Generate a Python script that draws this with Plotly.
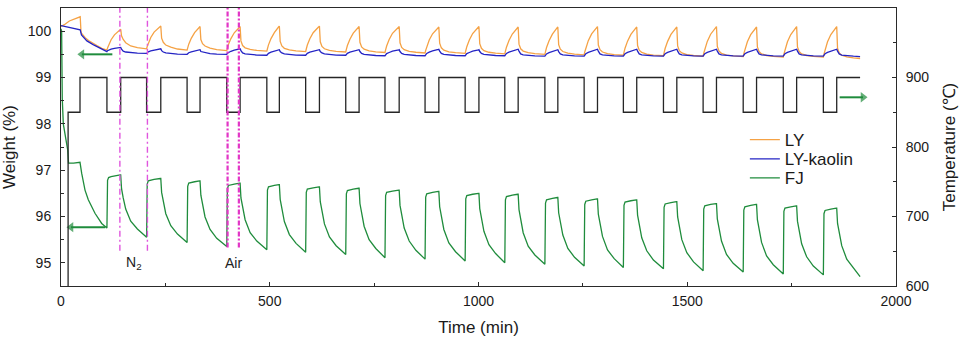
import plotly.graph_objects as go

# ---------------- data ----------------
# temperature programme (step changes), degC
temp_time = [0, 17, 45.5, 110, 143, 205, 239, 302, 333, 397, 429, 493, 523, 586, 619,
             682, 714, 776, 810, 872, 905, 968, 1001, 1063, 1095, 1159, 1190, 1253, 1285,
             1347, 1379, 1443, 1475, 1538, 1570, 1634, 1666, 1730, 1762, 1826, 1858, 1914]
temp_value = [25, 850, 900, 850, 900, 850, 900, 850, 900, 850, 900, 850, 900, 850, 900,
              850, 900, 850, 900, 850, 900, 850, 900, 850, 900, 850, 900, 850, 900,
              850, 900, 850, 900, 850, 900, 850, 900, 850, 900, 850, 900, 900]

# initial heating segments (min, wt %)
ly_init_t = [0, 8, 20, 35, 44, 46, 48, 52, 58, 66, 76, 86, 98]
ly_init_w = [100.10, 100.14, 100.22, 100.28, 100.31, 100.31, 99.97, 99.92, 99.86, 99.80, 99.74, 99.69, 99.63]
kaolin_init_t = [0, 10, 25, 40, 46, 49, 55, 62, 77, 93]
kaolin_init_w = [100.12, 100.10, 100.08, 100.05, 100.03, 99.92, 99.85, 99.79, 99.71, 99.63]
fj_init_t = [0, 1.5, 3, 5.5, 16, 18, 30, 45.5, 49.6, 57.5, 65.4, 81.4, 97.5, 107.8]
fj_init_w = [100.05, 100.0, 98.55, 98.0, 97.44, 97.15, 97.15, 97.17, 96.93, 96.57, 96.36, 96.07, 95.85, 95.76]

# cyclic part, sampled times (min)
cycle_time = [
    110, 111.5, 114, 120, 128, 142, 143, 145, 149, 155, 167, 183,
    205, 206.5, 209, 215, 223, 238, 239, 241, 245, 251, 263, 279,
    302, 303.5, 306, 312, 320, 332, 333, 335, 339, 345, 357, 373,
    397, 398.5, 401, 407, 415, 428, 429, 431, 435, 441, 453, 469,
    493, 494.5, 497, 503, 511, 522, 523, 525, 529, 535, 547, 563,
    586, 587.5, 590, 596, 604, 618, 619, 621, 625, 631, 643, 659,
    682, 683.5, 686, 692, 700, 713, 714, 716, 720, 726, 738, 754,
    776, 777.5, 780, 786, 794, 809, 810, 812, 816, 822, 834, 850,
    872, 873.5, 876, 882, 890, 904, 905, 907, 911, 917, 929, 945,
    968, 969.5, 972, 978, 986, 1000, 1001, 1003, 1007, 1013, 1025, 1041,
    1063, 1064.5, 1067, 1073, 1081, 1094, 1095, 1097, 1101, 1107, 1119, 1135,
    1159, 1160.5, 1163, 1169, 1177, 1189, 1190, 1192, 1196, 1202, 1214, 1230,
    1253, 1254.5, 1257, 1263, 1271, 1284, 1285, 1287, 1291, 1297, 1309, 1325,
    1347, 1348.5, 1351, 1357, 1365, 1378, 1379, 1381, 1385, 1391, 1403, 1419,
    1443, 1444.5, 1447, 1453, 1461, 1474, 1475, 1477, 1481, 1487, 1499, 1515,
    1538, 1539.5, 1542, 1548, 1556, 1569, 1570, 1572, 1576, 1582, 1594, 1610,
    1634, 1635.5, 1638, 1644, 1652, 1665, 1666, 1668, 1672, 1678, 1690, 1706,
    1730, 1731.5, 1734, 1740, 1748, 1761, 1762, 1764, 1768, 1774, 1786, 1802,
    1826, 1827.5, 1830, 1836, 1844, 1857, 1858, 1860, 1864, 1870, 1882, 1898,
    1914,
]

ly_cycle_w = [
    99.59, 99.635, 99.70, 99.815, 99.92, 100.03, 100.04, 99.90, 99.82, 99.75, 99.68, 99.645,
    99.62, 99.67, 99.74, 99.865, 99.98, 100.10, 100.11, 99.85, 99.76, 99.70, 99.655, 99.615,
    99.59, 99.64, 99.72, 99.845, 99.97, 100.09, 100.10, 99.82, 99.73, 99.68, 99.635, 99.60,
    99.58, 99.63, 99.71, 99.84, 99.965, 100.09, 100.10, 99.79, 99.69, 99.64, 99.605, 99.585,
    99.57, 99.62, 99.705, 99.84, 99.97, 100.10, 100.11, 99.78, 99.68, 99.63, 99.595, 99.575,
    99.56, 99.615, 99.70, 99.835, 99.967, 100.10, 100.11, 99.77, 99.67, 99.62, 99.585, 99.565,
    99.55, 99.605, 99.69, 99.825, 99.957, 100.09, 100.10, 99.76, 99.66, 99.61, 99.575, 99.555,
    99.54, 99.596, 99.68, 99.82, 99.954, 100.09, 100.10, 99.75, 99.65, 99.60, 99.565, 99.545,
    99.53, 99.586, 99.67, 99.81, 99.944, 100.08, 100.09, 99.74, 99.64, 99.59, 99.555, 99.535,
    99.52, 99.578, 99.665, 99.81, 99.949, 100.09, 100.10, 99.73, 99.63, 99.58, 99.545, 99.525,
    99.51, 99.568, 99.655, 99.80, 99.939, 100.08, 100.09, 99.72, 99.62, 99.57, 99.535, 99.515,
    99.50, 99.559, 99.648, 99.795, 99.937, 100.08, 100.09, 99.71, 99.61, 99.56, 99.525, 99.505,
    99.49, 99.551, 99.643, 99.795, 99.941, 100.09, 100.10, 99.70, 99.60, 99.55, 99.515, 99.495,
    99.48, 99.541, 99.633, 99.785, 99.931, 100.08, 100.09, 99.69, 99.59, 99.54, 99.505, 99.485,
    99.47, 99.532, 99.625, 99.78, 99.929, 100.08, 100.09, 99.68, 99.58, 99.53, 99.495, 99.475,
    99.46, 99.524, 99.62, 99.78, 99.934, 100.09, 100.10, 99.67, 99.57, 99.52, 99.485, 99.465,
    99.45, 99.514, 99.61, 99.77, 99.924, 100.08, 100.09, 99.66, 99.56, 99.51, 99.475, 99.455,
    99.44, 99.506, 99.605, 99.77, 99.928, 100.09, 100.10, 99.66, 99.56, 99.51, 99.475, 99.455,
    99.44, 99.506, 99.605, 99.77, 99.928, 100.09, 100.10, 99.63, 99.53, 99.48, 99.445, 99.425,
    99.41,
]

kaolin_cycle_w = [
    99.56, 99.578, 99.592, 99.61, 99.628, 99.647, 99.65, 99.61, 99.57, 99.55, 99.535, 99.525,
    99.52, 99.54, 99.555, 99.575, 99.595, 99.617, 99.62, 99.58, 99.55, 99.53, 99.515, 99.505,
    99.50, 99.52, 99.535, 99.555, 99.575, 99.597, 99.60, 99.56, 99.55, 99.53, 99.515, 99.505,
    99.50, 99.524, 99.542, 99.566, 99.59, 99.616, 99.62, 99.58, 99.53, 99.51, 99.495, 99.485,
    99.48, 99.504, 99.522, 99.546, 99.57, 99.596, 99.60, 99.56, 99.53, 99.51, 99.495, 99.485,
    99.48, 99.504, 99.522, 99.546, 99.57, 99.596, 99.60, 99.56, 99.53, 99.51, 99.495, 99.485,
    99.48, 99.504, 99.522, 99.546, 99.57, 99.596, 99.60, 99.56, 99.52, 99.50, 99.485, 99.475,
    99.47, 99.496, 99.515, 99.54, 99.568, 99.596, 99.60, 99.56, 99.52, 99.50, 99.485, 99.475,
    99.47, 99.498, 99.519, 99.547, 99.575, 99.606, 99.61, 99.57, 99.52, 99.50, 99.485, 99.475,
    99.47, 99.496, 99.515, 99.54, 99.568, 99.596, 99.60, 99.56, 99.52, 99.50, 99.485, 99.475,
    99.47, 99.498, 99.519, 99.547, 99.575, 99.606, 99.61, 99.57, 99.51, 99.49, 99.475, 99.465,
    99.46, 99.488, 99.509, 99.537, 99.565, 99.596, 99.60, 99.56, 99.51, 99.49, 99.475, 99.465,
    99.46, 99.49, 99.512, 99.543, 99.572, 99.605, 99.61, 99.57, 99.51, 99.49, 99.475, 99.465,
    99.46, 99.49, 99.512, 99.543, 99.572, 99.605, 99.61, 99.57, 99.51, 99.49, 99.475, 99.465,
    99.46, 99.49, 99.512, 99.543, 99.572, 99.605, 99.61, 99.57, 99.51, 99.49, 99.475, 99.465,
    99.46, 99.49, 99.512, 99.543, 99.572, 99.605, 99.61, 99.57, 99.51, 99.49, 99.475, 99.465,
    99.46, 99.49, 99.512, 99.543, 99.572, 99.605, 99.61, 99.57, 99.51, 99.49, 99.475, 99.465,
    99.46, 99.49, 99.512, 99.543, 99.572, 99.605, 99.61, 99.57, 99.51, 99.49, 99.475, 99.465,
    99.46, 99.49, 99.512, 99.543, 99.572, 99.605, 99.61, 99.57, 99.51, 99.485, 99.47, 99.46,
    99.45,
]

fj_cycle_w = [
    95.75, 96.78, 96.84, 96.86, 96.88, 96.90, 96.90, 96.60, 96.40, 96.16, 95.90, 95.73,
    95.55, 96.70, 96.77, 96.79, 96.80, 96.82, 96.82, 96.52, 96.31, 96.06, 95.80, 95.62,
    95.44, 96.65, 96.72, 96.74, 96.75, 96.77, 96.77, 96.46, 96.24, 95.99, 95.72, 95.53,
    95.35, 96.60, 96.67, 96.69, 96.70, 96.72, 96.72, 96.40, 96.19, 95.93, 95.65, 95.47,
    95.28, 96.57, 96.64, 96.66, 96.67, 96.69, 96.69, 96.37, 96.15, 95.89, 95.61, 95.42,
    95.23, 96.52, 96.59, 96.61, 96.62, 96.64, 96.64, 96.32, 96.10, 95.84, 95.56, 95.37,
    95.18, 96.49, 96.56, 96.58, 96.59, 96.61, 96.61, 96.28, 96.06, 95.79, 95.50, 95.31,
    95.11, 96.45, 96.52, 96.54, 96.55, 96.57, 96.57, 96.24, 96.02, 95.75, 95.47, 95.27,
    95.08, 96.42, 96.49, 96.51, 96.52, 96.54, 96.54, 96.21, 95.99, 95.72, 95.43, 95.24,
    95.04, 96.38, 96.45, 96.47, 96.48, 96.50, 96.50, 96.17, 95.95, 95.68, 95.39, 95.20,
    95.00, 96.36, 96.43, 96.45, 96.46, 96.48, 96.48, 96.15, 95.92, 95.65, 95.36, 95.17,
    94.97, 96.29, 96.36, 96.38, 96.39, 96.41, 96.41, 96.08, 95.86, 95.60, 95.31, 95.12,
    94.93, 96.26, 96.33, 96.35, 96.36, 96.38, 96.38, 96.05, 95.83, 95.57, 95.28, 95.09,
    94.90, 96.24, 96.31, 96.33, 96.34, 96.36, 96.36, 96.03, 95.81, 95.54, 95.26, 95.06,
    94.87, 96.20, 96.27, 96.29, 96.30, 96.32, 96.32, 95.99, 95.77, 95.50, 95.22, 95.02,
    94.83, 96.16, 96.23, 96.25, 96.26, 96.28, 96.28, 95.95, 95.73, 95.47, 95.18, 94.99,
    94.80, 96.14, 96.21, 96.23, 96.24, 96.26, 96.26, 95.93, 95.71, 95.44, 95.15, 94.96,
    94.76, 96.11, 96.18, 96.20, 96.21, 96.23, 96.23, 95.90, 95.68, 95.41, 95.13, 94.93,
    94.74, 96.06, 96.13, 96.15, 96.16, 96.18, 96.18, 95.85, 95.63, 95.37, 95.08, 94.89,
    94.70,
]

n2_marks = [141, 207]
air_marks = [399, 426]

series_names = ["LY", "LY-kaolin", "FJ"]
x_ticks = [0, 500, 1000, 1500, 2000]

# green arrows (tail -> head), in axis units
arrow1_t, arrow1_w = [123, 50], [99.5, 99.5]
arrow2_t, arrow2_w = [106, 24], [95.77, 95.77]
arrow3_t, arrow3_temp = [1865, 1921], [871.5, 871.5]

# ---------------- figure ----------------
FONT = "Arial, 'Liberation Sans', sans-serif"
C_LY, C_KA, C_FJ, C_T = "#f5a245", "#2424c4", "#1f8c3c", "#262626"
AX = "#2a2a2a"

fig = go.Figure()
fig.add_trace(go.Scatter(x=temp_time, y=temp_value, yaxis="y2", mode="lines", hoverinfo="skip",
                         line=dict(color=C_T, width=1.3, shape="hv"), showlegend=False))
fig.add_trace(go.Scatter(x=ly_init_t + cycle_time, y=ly_init_w + ly_cycle_w, mode="lines",
                         name=series_names[0], legend="legend", line=dict(color=C_LY, width=1.3)))
fig.add_trace(go.Scatter(x=kaolin_init_t + cycle_time, y=kaolin_init_w + kaolin_cycle_w, mode="lines",
                         name=series_names[1], legend="legend2", line=dict(color=C_KA, width=1.3)))
fig.add_trace(go.Scatter(x=fj_init_t + cycle_time, y=fj_init_w + fj_cycle_w, mode="lines",
                         name=series_names[2], legend="legend3", line=dict(color=C_FJ, width=1.3)))

for xs, ys, ax, sym in [(arrow1_t, arrow1_w, "y", "triangle-left"),
                        (arrow2_t, arrow2_w, "y", "triangle-left"),
                        (arrow3_t, arrow3_temp, "y2", "triangle-right")]:
    fig.add_trace(go.Scatter(x=xs, y=ys, yaxis=ax, mode="lines+markers", showlegend=False,
                             hoverinfo="skip", line=dict(color=C_FJ, width=2),
                             marker=dict(symbol=sym, size=[0, 9], color=C_FJ, line=dict(width=0))))

shapes = []
for t in n2_marks:
    shapes.append(dict(type="line", xref="x", yref="y", x0=t, x1=t, y0=95.26, y1=100.5,
                       line=dict(color="#e055de", width=1.4, dash="6px,3px,2px,3px")))
for t in air_marks:
    shapes.append(dict(type="line", xref="x", yref="y", x0=t, x1=t, y0=95.33, y1=100.5,
                       line=dict(color="#e236c6", width=2.2, dash="5px,2px,2px,2px")))

annotations = [
    dict(x=sum(n2_marks) / 2, y=95.0, xref="x", yref="y", text="N<sub>2</sub>", showarrow=False,
         font=dict(family=FONT, size=14, color="#222")),
    dict(x=sum(air_marks) / 2, y=95.0, xref="x", yref="y", text="Air", showarrow=False,
         font=dict(family=FONT, size=14, color="#222")),
]

tickfont = dict(family=FONT, size=14, color="#1a1a1a")
titlefont = dict(family=FONT, size=17, color="#1a1a1a")
legfont = dict(family=FONT, size=17, color="#1a1a1a")


def leg(ypix):
    return dict(x=0.819, y=(286 - ypix) / 278, xanchor="left", yanchor="middle",
                bgcolor="rgba(0,0,0,0)", font=legfont, itemwidth=30)


fig.update_layout(
    width=962, height=337,
    margin=dict(l=61, r=66, t=8, b=51, autoexpand=False),
    paper_bgcolor="white", plot_bgcolor="white",
    font=dict(family=FONT, size=14, color="#1a1a1a"),
    shapes=shapes, annotations=annotations,
    legend=leg(140), legend2=leg(159.3), legend3=leg(178.3),
    xaxis=dict(range=[0, 2000], tickvals=x_ticks, ticks="inside", ticklen=4, tickcolor=AX,
               showline=True, linecolor=AX, linewidth=1, mirror=True, showgrid=False, zeroline=False,
               minor=dict(ticks="inside", ticklen=3, dtick=250, tick0=0, tickcolor=AX),
               ticklabelstandoff=2, automargin=False,
               tickfont=tickfont, title=dict(text="Time (min)", font=titlefont, standoff=13)),
    yaxis=dict(range=[94.5, 100.5], dtick=1, tick0=95, ticks="inside", ticklen=4, tickcolor=AX,
               showline=True, linecolor=AX, linewidth=1, showgrid=False, zeroline=False,
               minor=dict(ticks="inside", ticklen=3, dtick=0.5, tick0=94.5, tickcolor=AX),
               ticklabelstandoff=6, automargin=False,
               tickfont=tickfont, title=dict(text="Weight (%)", font=titlefont, standoff=10)),
    yaxis2=dict(range=[600, 1000], dtick=100, tick0=600, overlaying="y", side="right",
                ticks="inside", ticklen=4, tickcolor=AX,
                showline=True, linecolor=AX, linewidth=1, showgrid=False, zeroline=False,
                minor=dict(ticks="inside", ticklen=3, dtick=50, tick0=600, tickcolor=AX),
                ticklabelstandoff=6, automargin=False,
                tickfont=tickfont, title=dict(text="Temperature (℃)", font=titlefont, standoff=14)),
)

fig.write_html("out.html", config={"displayModeBar": False},
               post_script="document.body.style.margin='0';")
